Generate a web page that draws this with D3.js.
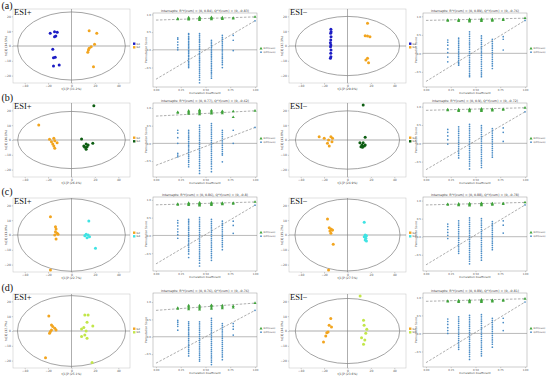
<!DOCTYPE html>
<html>
<head>
<meta charset="utf-8">
<script src="https://cdn.jsdelivr.net/npm/d3@7"></script>
<style>
  body { margin: 0; background: #fff; }
</style>
</head>
<body>
<svg id="fig" width="550" height="377" font-family="DejaVu Sans, sans-serif"></svg>
<script>
// ---- labels
const rowLabels = ["(a)", "(b)", "(c)", "(d)"];
const modeLabels = ["ESI+", "ESI\u2212"];
const groupNames = [["G1", "G2"], ["G2", "G3"], ["G2", "G4"], ["G2", "G5"]];
const groupColors = [
  ["#1c1cc4", "#f2a51f"],
  ["#f2a51f", "#0d5e12"],
  ["#f2a51f", "#3fe3e3"],
  ["#f2a51f", "#c2e64a"]
];
const scoreAxisX = ["t[1]P (31.2%)", "t[1]P (29.8%)", "t[1]P (26.4%)", "t[1]P (24.9%)", "t[1]P (22.7%)", "t[1]P (27.5%)", "t[1]P (25.1%)", "t[1]P (23.6%)"];
const scoreAxisY = ["to[1] (14.5%)", "to[1] (12.3%)", "to[1] (16.1%)", "to[1] (13.8%)", "to[1] (11.9%)", "to[1] (15.2%)", "to[1] (12.7%)", "to[1] (14.0%)"];

// ---- score plots: [t1, to1] per sample, ellipse radii
const scoreA_pos_1 = [[-18.2, 8.6], [-14.5, 9.7], [-12.2, 9.3], [-13.4, 6.8], [-14.5, 6.3], [-16, -2.2], [-15.4, -7.9], [-13.9, -7.6], [-10.5, -12.8], [-15.4, -13.5]];
const scoreA_pos_2 = [[15.1, 10.3], [21.6, 8.6], [19.7, 1.1], [16.8, -0.5], [15.1, -1.6], [14.5, -2.7], [13.9, -4.3], [18.8, -14]];
const scoreA_neg_1 = [[-14.2, 11.3], [-14, 9.7], [-14.4, 8.6], [-14.1, 6.3], [-14.3, 4.1], [-14.6, 2.2], [-14.2, 0.7], [-14.5, -0.5], [-14.1, -2.7], [-14.3, -4.9], [-14.2, -7.2], [-14.6, -8.3]];
const scoreA_neg_2 = [[17.1, 15.3], [15.1, 7], [17.1, 6.8], [19.2, 6.3], [17.1, -8.3], [15.7, -9.5], [18, -11.3]];
const scoreB_pos_1 = [[-28, 10.1], [-18.8, 0.5], [-15.1, 1.1], [-14.3, -0.5], [-17.1, -1.1], [-12.3, -1.8], [-16, -2.7], [-15.1, -4.1], [-14.3, -5.6]];
const scoreB_pos_2 = [[19.1, 23.2], [8.6, 0.7], [18.2, -2.2], [12.5, -2.7], [10.5, -4.1], [13.3, -4.5], [11.4, -4.9], [12.5, -6.3], [14.2, -3.4]];
const scoreB_neg_1 = [[-24.2, 2.2], [-19.9, 1.1], [-16.2, 0], [-14.2, 2.2], [-12.8, 1.1], [-17.1, -2.2], [-15.6, -4.1], [-13.3, -1.1]];
const scoreB_neg_2 = [[13.4, 23.7], [15.1, 1.8], [10.6, -1.8], [13.4, -1.8], [12.3, -3.4], [14.3, -4.1], [12.8, -4.9], [15.1, -3.4], [11.5, -4.5]];
const scoreC_pos_1 = [[-18, 12.4], [-13.7, 5.6], [-13.2, 4.1], [-13.7, 2.2], [-12.3, 1.1], [-11.5, 0.5], [-14.3, 0], [-13.2, -2.7], [-18, -23.7]];
const scoreC_pos_2 = [[14.8, 9.5], [12.5, 0.5], [14.2, 0], [15.4, -1.1], [13.3, -1.8], [20.5, -9], [11.4, -0.5]];
const scoreC_neg_1 = [[-17.1, 10.8], [-15.6, 4.9], [-14.2, 4.1], [-13.3, 3.4], [-15, 2.7], [-12.8, 3.4], [-14.2, 1.1], [-12.2, -6.3], [-16.2, -23.7]];
const scoreC_neg_2 = [[14.3, 8.6], [15.1, 0], [16.2, -0.5], [14.3, -1.1], [15.7, -2.2], [16.2, -4.1], [15.1, -3.4]];
const scoreD_pos_1 = [[-19.4, 10.1], [-17.1, 4.1], [-16, 3], [-14.3, 1.8], [-13.2, 0.7], [-17.1, 0.7], [-18, -0.4], [-18.8, -1.6], [-22.2, -18]];
const scoreD_pos_2 = [[11.4, 10.8], [14.2, 10.8], [13.3, 5.9], [18.2, 3.4], [10.5, 2.3], [12.5, 0], [8.6, 1.4], [11.4, -2.7], [8.6, -3.8], [13.3, -4.9], [17.6, -21.2]];
const scoreD_neg_1 = [[-14.3, 8.4], [-15.7, 3.9], [-13.7, 2.7], [-16.6, -0.7], [-17.7, -1.1], [-18.6, -3.4], [-20.5, -7.4]];
const scoreD_neg_2 = [[10.8, 23.7], [13.7, 7.2], [14.2, 3.9], [16.5, 1.1], [15.6, -1.6], [12, -4.5], [14.8, -6.1], [13.7, -9]];
const ellipseRadii = [[46, 23], [44.5, 20], [46, 19.3], [44.5, 19.7], [46, 24.5], [44.9, 24.3], [46.2, 23.9], [44.6, 22]];

// ---- permutation plots, correlation coefficient columns
const permCorr = [0.22, 0.33, 0.44, 0.56, 0.67, 0.78];
const permIntercepts = [[0.84, -0.83], [0.89, -0.76], [0.77, -0.62], [0.9, -0.72], [0.86, -0.8], [0.88, -0.78], [0.76, -0.76], [0.89, -0.81]];
const permOriginal = [[0.93, 0.82], [0.95, 0.89], [0.92, 0.45], [0.97, 0.86], [0.94, 0.85], [0.95, 0.88], [0.97, 0.76], [0.96, 0.87]];
const permYDomain = [[-1.05, 1.04], [-0.91, 1.09], [-0.95, 1.14], [-0.92, 1.1], [-1.0, 1.08], [-0.95, 1.1], [-0.87, 1.26], [-0.93, 1.12]];
const r2A_pos = [[0.86, 0.88], [0.85, 0.87, 0.89, 0.91], [0.84, 0.86, 0.88, 0.9, 0.92], [0.86, 0.88, 0.9, 0.92], [0.87, 0.89, 0.91], [0.88, 0.9]];
const r2A_neg = [[0.88, 0.9], [0.87, 0.89, 0.91], [0.86, 0.88, 0.9, 0.92], [0.87, 0.89, 0.91, 0.93], [0.88, 0.9, 0.92], [0.9, 0.92]];
const r2B_pos = [[0.86, 0.88], [0.83, 0.86, 0.89, 0.92], [0.82, 0.85, 0.88, 0.91, 0.94], [0.84, 0.87, 0.9, 0.93], [0.85, 0.88, 0.91], [0.74, 0.9]];
const r2B_neg = [[0.9, 0.92], [0.88, 0.9, 0.92], [0.87, 0.89, 0.91, 0.93], [0.88, 0.9, 0.92, 0.94], [0.89, 0.91, 0.93], [0.91, 0.93]];
const r2C_pos = [[0.86, 0.88], [0.85, 0.87, 0.89, 0.91], [0.84, 0.86, 0.88, 0.9, 0.92], [0.85, 0.88, 0.9, 0.92], [0.87, 0.89, 0.91], [0.89, 0.91]];
const r2C_neg = [[0.88, 0.9], [0.87, 0.89, 0.91], [0.86, 0.88, 0.9, 0.92], [0.87, 0.89, 0.91, 0.93], [0.88, 0.9, 0.92], [0.9, 0.92]];
const r2D_pos = [[0.8, 0.83], [0.79, 0.83, 0.87, 0.9], [0.78, 0.82, 0.86, 0.9], [0.8, 0.84, 0.88, 0.91], [0.82, 0.86, 0.9], [0.84, 0.88]];
const r2D_neg = [[0.88, 0.9], [0.87, 0.89, 0.91], [0.86, 0.88, 0.9, 0.92], [0.87, 0.89, 0.91, 0.93], [0.88, 0.9, 0.92], [0.9, 0.92]];
const q2A_pos = [
  [0.34, 0.3, 0.22, 0.14, 0.06, 0.0],
  [0.46, 0.43, 0.37, 0.33, 0.29, 0.24, 0.2, 0.16, 0.11, 0.07, 0.03, -0.02, -0.06, -0.1, -0.15, -0.19, -0.24, -0.28, -0.33, -0.37, -0.42, -0.46, -0.5],
  [0.46, 0.41, 0.36, 0.3, 0.25, 0.21, 0.15, 0.1, 0.05, 0.01, -0.05, -0.1, -0.14, -0.2, -0.25, -0.3, -0.35, -0.4, -0.45, -0.5, -0.55, -0.6, -0.66, -0.72, -0.78, -0.85, -0.93],
  [0.27, 0.22, 0.17, 0.12, 0.07, 0.02, -0.03, -0.08, -0.13, -0.18, -0.23, -0.28, -0.33, -0.38, -0.43, -0.48, -0.53, -0.58, -0.63, -0.68, -0.74, -0.8],
  [0.41, 0.35, 0.3, 0.24, 0.19, 0.13, 0.08, 0.02, -0.03, -0.09, -0.14, -0.2, -0.25, -0.31, -0.36, -0.42, -0.5],
  [0.41, 0.27, -0.02]
];
const q2A_neg = [
  [0.36, 0.3, 0.22, 0.12, 0.02, -0.1, -0.23],
  [0.41, 0.36, 0.31, 0.26, 0.21, 0.16, 0.11, 0.06, 0.01, -0.04, -0.09, -0.14, -0.19, -0.24, -0.28, -0.32],
  [0.58, 0.52, 0.46, 0.4, 0.34, 0.28, 0.23, 0.17, 0.11, 0.05, 0, -0.06, -0.12, -0.18, -0.24, -0.3, -0.36, -0.42, -0.48, -0.54, -0.59, -0.63],
  [0.47, 0.41, 0.35, 0.29, 0.24, 0.18, 0.12, 0.06, 0.01, -0.05, -0.11, -0.17, -0.23, -0.29, -0.35, -0.41, -0.47, -0.53, -0.58, -0.63],
  [0.38, 0.32, 0.26, 0.2, 0.14, 0.08, 0.02, -0.04, -0.1, -0.16, -0.22, -0.28, -0.34, -0.41],
  [0.45, 0.38, 0.09]
];
const q2B_pos = [
  [0.37, 0.29, 0.16, 0.0, -0.28, -0.33, -0.38],
  [0.37, 0.32, 0.27, 0.21, 0.16, 0.11, 0.05, 0.0, -0.05, -0.1, -0.16, -0.21, -0.26, -0.32, -0.37, -0.42, -0.48, -0.53, -0.6, -0.66],
  [0.51, 0.45, 0.39, 0.33, 0.27, 0.21, 0.15, 0.09, 0.03, -0.03, -0.09, -0.15, -0.21, -0.27, -0.33, -0.39, -0.45, -0.51, -0.57, -0.63, -0.7, -0.77, -0.85],
  [0.56, 0.5, 0.44, 0.38, 0.32, 0.26, 0.2, 0.14, 0.08, 0.02, -0.04, -0.1, -0.16, -0.22, -0.28, -0.34, -0.4, -0.46, -0.52, -0.58, -0.65, -0.72, -0.8],
  [0.37, 0.31, 0.25, 0.19, 0.13, 0.07, 0.01, -0.05, -0.11, -0.17, -0.23, -0.29, -0.33, -0.52],
  [0.37, 0.0]
];
const q2B_neg = [
  [0.38, 0.3, 0.2, 0.1, -0.02],
  [0.45, 0.39, 0.33, 0.27, 0.21, 0.15, 0.09, 0.03, -0.03, -0.09, -0.15, -0.21, -0.27, -0.33, -0.4],
  [0.52, 0.46, 0.4, 0.34, 0.28, 0.22, 0.16, 0.1, 0.04, -0.02, -0.08, -0.14, -0.2, -0.26, -0.32, -0.38, -0.44, -0.5, -0.56, -0.62, -0.7],
  [0.48, 0.42, 0.36, 0.3, 0.24, 0.18, 0.12, 0.06, 0.0, -0.06, -0.12, -0.18, -0.24, -0.3, -0.36, -0.42, -0.48, -0.54, -0.6, -0.66],
  [0.4, 0.34, 0.28, 0.22, 0.16, 0.1, 0.04, -0.02, -0.08, -0.14, -0.2, -0.26, -0.32, -0.38],
  [0.42, 0.3, 0.05]
];
const q2C_pos = [
  [0.42, 0.35, 0.27, 0.18, 0.1, 0.02, -0.08],
  [0.45, 0.4, 0.35, 0.3, 0.24, 0.19, 0.14, 0.08, 0.03, -0.02, -0.08, -0.13, -0.18, -0.24, -0.29, -0.34, -0.4, -0.45, -0.52, -0.62],
  [0.5, 0.44, 0.38, 0.32, 0.26, 0.2, 0.14, 0.08, 0.02, -0.04, -0.1, -0.16, -0.22, -0.28, -0.34, -0.4, -0.46, -0.52, -0.58, -0.64, -0.7, -0.78, -0.86],
  [0.45, 0.39, 0.33, 0.27, 0.21, 0.15, 0.09, 0.03, -0.03, -0.09, -0.15, -0.21, -0.27, -0.33, -0.39, -0.45, -0.51, -0.57, -0.63, -0.7],
  [0.4, 0.34, 0.28, 0.22, 0.16, 0.1, 0.04, -0.02, -0.08, -0.14, -0.2, -0.26, -0.32, -0.4],
  [0.4, 0.28, 0.06]
];
const q2C_neg = [
  [0.35, 0.28, 0.2, 0.12, 0.04, -0.05],
  [0.44, 0.38, 0.32, 0.26, 0.2, 0.14, 0.08, 0.02, -0.04, -0.1, -0.16, -0.22, -0.28, -0.34, -0.4, -0.46],
  [0.52, 0.46, 0.4, 0.34, 0.28, 0.22, 0.16, 0.1, 0.04, -0.02, -0.08, -0.14, -0.2, -0.26, -0.32, -0.38, -0.44, -0.5, -0.56, -0.62, -0.68, -0.75],
  [0.5, 0.44, 0.38, 0.32, 0.26, 0.2, 0.14, 0.08, 0.02, -0.04, -0.1, -0.16, -0.22, -0.28, -0.34, -0.4, -0.46, -0.52, -0.58, -0.65],
  [0.42, 0.36, 0.3, 0.24, 0.18, 0.12, 0.06, 0.0, -0.06, -0.12, -0.18, -0.24, -0.3, -0.36],
  [0.44, 0.32, 0.1]
];
const q2D_pos = [
  [0.47, 0.42, 0.36, 0.3, 0.19],
  [0.43, 0.38, 0.33, 0.27, 0.22, 0.17, 0.11, 0.06, 0.01, -0.05, -0.1, -0.15, -0.21, -0.26, -0.31, -0.37, -0.42, -0.48, -0.55],
  [0.43, 0.37, 0.31, 0.25, 0.19, 0.13, 0.07, 0.01, -0.05, -0.11, -0.17, -0.23, -0.29, -0.35, -0.41, -0.47, -0.53, -0.59, -0.65, -0.7],
  [0.53, 0.47, 0.41, 0.35, 0.29, 0.23, 0.17, 0.11, 0.05, -0.01, -0.07, -0.13, -0.19, -0.25, -0.31, -0.37, -0.43, -0.49, -0.55, -0.61, -0.67, -0.73, -0.8],
  [0.38, 0.32, 0.26, 0.2, 0.14, 0.08, 0.02, -0.04, -0.1, -0.16, -0.22, -0.28, -0.34, -0.4, -0.46, -0.52, -0.58, -0.66],
  [0.38, 0.3, 0.22, 0.05]
];
const q2D_neg = [
  [0.4, 0.33, 0.25, 0.16, 0.08, 0.0],
  [0.46, 0.4, 0.34, 0.28, 0.22, 0.16, 0.1, 0.04, -0.02, -0.08, -0.14, -0.2, -0.26, -0.32, -0.38, -0.44],
  [0.5, 0.44, 0.38, 0.32, 0.26, 0.2, 0.14, 0.08, 0.02, -0.04, -0.1, -0.16, -0.22, -0.28, -0.34, -0.4, -0.46, -0.52, -0.58, -0.64, -0.72],
  [0.52, 0.46, 0.4, 0.34, 0.28, 0.22, 0.16, 0.1, 0.04, -0.02, -0.08, -0.14, -0.2, -0.26, -0.32, -0.38, -0.44, -0.5, -0.56, -0.62],
  [0.42, 0.36, 0.3, 0.24, 0.18, 0.12, 0.06, 0.0, -0.06, -0.12, -0.18, -0.24, -0.3, -0.38],
  [0.42, 0.3, 0.08]
];

const scoreSets = [
  [scoreA_pos_1, scoreA_pos_2], [scoreA_neg_1, scoreA_neg_2],
  [scoreB_pos_1, scoreB_pos_2], [scoreB_neg_1, scoreB_neg_2],
  [scoreC_pos_1, scoreC_pos_2], [scoreC_neg_1, scoreC_neg_2],
  [scoreD_pos_1, scoreD_pos_2], [scoreD_neg_1, scoreD_neg_2]
];
const r2Sets = [r2A_pos, r2A_neg, r2B_pos, r2B_neg, r2C_pos, r2C_neg, r2D_pos, r2D_neg];
const q2Sets = [q2A_pos, q2A_neg, q2B_pos, q2B_neg, q2C_pos, q2C_neg, q2D_pos, q2D_neg];

// ---- layout
const svg = d3.select("#fig");
const rowScoreCY = [46, 140, 235, 331];
const rowPermTop = [13, 103, 197, 293];
const rowLabelY = [9, 101, 195, 291];
const scoreX = [13, 289];
const permX = [153, 423];
const SW = 117, SH = 74, PW = 104, PH = 74;
const grey = "#8a8a8a";
const serif = "Liberation Serif, Times New Roman, serif";

function tinyAxis(g, axis, fs) {
  g.call(axis);
  g.select(".domain").remove();
  g.attr("font-family", null);
  g.selectAll("line").attr("stroke", grey).attr("stroke-width", 0.4);
  g.selectAll("text").attr("font-size", fs).attr("fill", "#555");
}

function drawScore(idx, row, col) {
  const x0 = scoreX[col], cy = rowScoreCY[row];
  const g = svg.append("g");
  const x = d3.scaleLinear().domain([-50, 50]).range([x0, x0 + SW]);
  const y = d3.scaleLinear().domain([-25, 25]).range([cy + SH / 2, cy - SH / 2]);

  g.append("rect").attr("x", x0).attr("y", cy - SH / 2).attr("width", SW).attr("height", SH)
    .attr("fill", "none").attr("stroke", "#c2c2c2").attr("stroke-width", 0.5);

  tinyAxis(g.append("g").attr("transform", `translate(0,${cy + SH / 2})`),
    d3.axisBottom(x).tickValues([-40, -20, 0, 20, 40]).tickSize(1.2).tickPadding(1), 3);
  tinyAxis(g.append("g").attr("transform", `translate(${x0},0)`),
    d3.axisLeft(y).tickValues([-20, -10, 0, 10, 20]).tickSize(1.2).tickPadding(1), 3);

  g.append("line").attr("x1", x(0)).attr("x2", x(0)).attr("y1", y(25)).attr("y2", y(-25))
    .attr("stroke", "#777").attr("stroke-width", 0.6);
  g.append("line").attr("x1", x(-50)).attr("x2", x(50)).attr("y1", y(0)).attr("y2", y(0))
    .attr("stroke", "#777").attr("stroke-width", 0.6);

  const [rx, ry] = ellipseRadii[idx];
  g.append("ellipse").attr("cx", x(0)).attr("cy", y(0))
    .attr("rx", x(rx) - x(0)).attr("ry", y(0) - y(ry))
    .attr("fill", "none").attr("stroke", "#7d7d7d").attr("stroke-width", 0.7);

  scoreSets[idx].forEach((pts, k) => {
    g.selectAll(null).data(pts).enter().append("circle")
      .attr("cx", (d) => x(d[0])).attr("cy", (d) => y(d[1])).attr("r", 1.5)
      .attr("fill", groupColors[row][k]);
  });

  g.append("text").attr("x", (x0 + SW / 2)).attr("y", cy + SH / 2 + 7)
    .attr("text-anchor", "middle").attr("font-size", 3).attr("fill", "#444").text(scoreAxisX[idx]);
  g.append("text").attr("transform", `translate(${x0 - 6},${cy}) rotate(-90)`)
    .attr("text-anchor", "middle").attr("font-size", 3).attr("fill", "#444").text(scoreAxisY[idx]);

  // legend
  groupNames[row].forEach((name, k) => {
    g.append("rect").attr("x", x0 + SW + 3).attr("y", cy - 3.5 + k * 3.6)
      .attr("width", 2.4).attr("height", 2.4).attr("fill", groupColors[row][k]);
    g.append("text").attr("x", x0 + SW + 6.5).attr("y", cy - 1.3 + k * 3.6)
      .attr("font-size", 2.6).attr("fill", "#444").text(name);
  });

  g.append("text").attr("x", x0 + 1).attr("y", cy - SH / 2 + 5.5)
    .attr("font-family", serif).attr("font-size", 8.5).attr("fill", "#111")
    .text(modeLabels[col]);
}

function drawPerm(idx, row, col) {
  const x0 = permX[col], top = rowPermTop[row];
  const g = svg.append("g");
  const x = d3.scaleLinear().domain([-0.03, 1.02]).range([x0, x0 + PW]);
  const y = d3.scaleLinear().domain(permYDomain[idx]).range([top + PH, top]);

  g.append("rect").attr("x", x0).attr("y", top).attr("width", PW).attr("height", PH)
    .attr("fill", "none").attr("stroke", "#9a9a9a").attr("stroke-width", 0.5);

  tinyAxis(g.append("g").attr("transform", `translate(0,${top + PH})`),
    d3.axisBottom(x).tickValues([0, 0.25, 0.5, 0.75, 1]).tickFormat(d3.format(".2f")).tickSize(1.2).tickPadding(1), 2.6);
  tinyAxis(g.append("g").attr("transform", `translate(${x0},0)`),
    d3.axisLeft(y).tickValues([-0.5, 0, 0.5, 1].filter((v) => v >= permYDomain[idx][0] && v <= permYDomain[idx][1]))
      .tickFormat(d3.format(".1f")).tickSize(1.2).tickPadding(1), 2.6);

  g.append("line").attr("x1", x0).attr("x2", x0 + PW).attr("y1", y(0)).attr("y2", y(0))
    .attr("stroke", "#8c8c8c").attr("stroke-width", 0.6);

  const [r2i, q2i] = permIntercepts[idx];
  const [r2o, q2o] = permOriginal[idx];
  g.append("line").attr("x1", x(0)).attr("y1", y(r2i)).attr("x2", x(1)).attr("y2", y(r2o))
    .attr("stroke", "#777").attr("stroke-width", 0.6).attr("stroke-dasharray", "2.5,1.5");
  g.append("line").attr("x1", x(0)).attr("y1", y(q2i)).attr("x2", x(1)).attr("y2", y(q2o))
    .attr("stroke", "#777").attr("stroke-width", 0.6).attr("stroke-dasharray", "2.5,1.5");

  q2Sets[idx].forEach((vals, c) => {
    g.selectAll(null).data(vals).enter().append("circle")
      .attr("cx", x(permCorr[c])).attr("cy", (d) => y(d)).attr("r", 0.85)
      .attr("fill", "#4a8cc6");
  });
  r2Sets[idx].forEach((vals, c) => {
    g.selectAll(null).data(vals).enter().append("path")
      .attr("transform", (d) => `translate(${x(permCorr[c])},${y(d)})`)
      .attr("d", d3.symbol(d3.symbolTriangle, 4)).attr("fill", "#3fa23a");
  });
  g.append("path").attr("transform", `translate(${x(1)},${y(r2o)})`)
    .attr("d", d3.symbol(d3.symbolTriangle, 4)).attr("fill", "#3fa23a");
  g.append("circle").attr("cx", x(1)).attr("cy", y(q2o)).attr("r", 0.85).attr("fill", "#4a8cc6");

  g.append("text").attr("x", x0 + PW / 2).attr("y", top - 1.5).attr("text-anchor", "middle")
    .attr("font-size", 3.2).attr("fill", "#333")
    .text(`Intercepts: R\u00b2Y(cum) = (0, ${r2i}), Q\u00b2Y(cum) = (0, ${q2i})`);
  g.append("text").attr("x", x0 + PW / 2).attr("y", top + PH + 6.5).attr("text-anchor", "middle")
    .attr("font-size", 2.8).attr("fill", "#444").text("Correlation Coefficient");
  g.append("text").attr("transform", `translate(${x0 - 6},${top + PH / 2}) rotate(-90)`)
    .attr("text-anchor", "middle").attr("font-size", 2.8).attr("fill", "#444").text("Permutation Score");

  const lx = x0 + PW + 4, ly = top + PH / 2;
  g.append("path").attr("transform", `translate(${lx},${ly - 1.5})`)
    .attr("d", d3.symbol(d3.symbolTriangle, 4)).attr("fill", "#3fa23a");
  g.append("text").attr("x", lx + 2.5).attr("y", ly - 0.6).attr("font-size", 2.4).attr("fill", "#444").text("R2Y(cum)");
  g.append("circle").attr("cx", lx).attr("cy", ly + 2.2).attr("r", 0.9).attr("fill", "#4a8cc6");
  g.append("text").attr("x", lx + 2.5).attr("y", ly + 3).attr("font-size", 2.4).attr("fill", "#444").text("Q2Y(cum)");
}

rowLabels.forEach((lab, row) => {
  svg.append("text").attr("x", 1.5).attr("y", rowLabelY[row])
    .attr("font-family", serif).attr("font-size", 10).attr("fill", "#111").text(lab);
  [0, 1].forEach((col) => {
    const idx = row * 2 + col;
    drawScore(idx, row, col);
    drawPerm(idx, row, col);
  });
});
</script>
</body>
</html>
